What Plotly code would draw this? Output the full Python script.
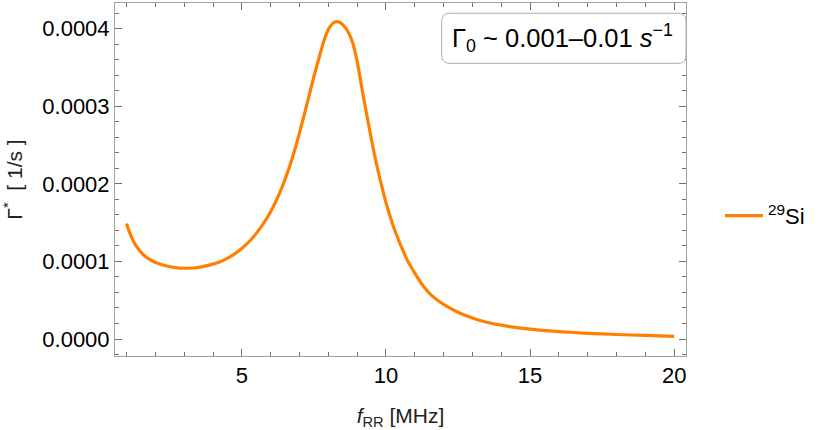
import plotly.graph_objects as go

# values
f_rr = [1.0, 1.1, 1.2, 1.35, 1.6, 1.9, 2.1, 2.4, 2.7, 3.0, 3.3, 3.6, 3.9,
        4.2, 4.5, 4.8, 5.1, 5.4, 5.7, 6.0, 6.3, 6.6, 6.9, 7.2, 7.5, 7.75,
        7.9, 8.05, 8.2, 8.3, 8.4, 8.55, 8.7, 8.85, 9.0, 9.2, 9.4, 9.6, 9.8,
        10.0, 10.25, 10.5, 10.75, 11.0, 11.3, 11.6, 12.0, 12.5, 13.0, 13.5,
        14.0, 15.0, 16.0, 17.0, 18.0, 19.0, 20.0]
gamma_si29 = [0.000149, 0.000138, 0.000129, 0.000119, 0.000108, 0.0001005,
              0.0000972, 0.0000940, 0.0000920, 0.0000912, 0.0000915,
              0.0000930, 0.0000955, 0.0000990, 0.0001040, 0.0001110,
              0.0001200, 0.0001315, 0.0001460, 0.0001640, 0.0001870,
              0.0002160, 0.0002520, 0.0002940, 0.0003380, 0.000372,
              0.000390, 0.000402, 0.000408, 0.000409, 0.000408, 0.000403,
              0.000395, 0.000381, 0.000358, 0.000316, 0.000276, 0.000238,
              0.000205, 0.000176, 0.000146, 0.000122, 0.000101, 0.0000850,
              0.0000680, 0.0000555, 0.0000445, 0.0000345, 0.0000272,
              0.0000215, 0.0000178, 0.0000127, 0.0000095, 0.0000073,
              0.0000058, 0.0000046, 0.0000035]

x_ticks = [5, 10, 15, 20]
y_ticks = [0.0, 0.0001, 0.0002, 0.0003, 0.0004]

FONT = "Liberation Sans, Arial, sans-serif"
ORANGE = "#ff8000"

fig = go.Figure()

fig.add_trace(go.Scatter(
    x=f_rr,
    y=gamma_si29,
    mode='lines',
    name='<sup>29</sup>Si',
    line=dict(color=ORANGE, width=3.2, shape='spline', smoothing=0.5)
))

axis_common = dict(
    showgrid=False,
    zeroline=False,
    showline=True,
    linecolor='#a0a0a0',
    linewidth=1,
    mirror='allticks',
    ticks='inside',
    ticklen=7,
    tickcolor='#707070',
    tickfont=dict(family=FONT, size=22, color='black'),
)

fig.update_xaxes(
    range=[0.6, 20.41],
    tickvals=x_ticks,
    minor=dict(dtick=1, ticks='inside', ticklen=4, tickcolor='#707070'),
    title=dict(text='<i>f</i><sub>RR</sub> [MHz]',
               font=dict(family=FONT, size=21, color='#222222'), standoff=22),
    **axis_common
)
fig.update_yaxes(
    range=[-0.0000219, 0.000433],
    tickvals=y_ticks,
    tickformat='.4f',
    minor=dict(dtick=0.00002, ticks='inside', ticklen=4, tickcolor='#707070'),
    title=dict(text='Γ<sup>*</sup>  [ 1/s ]',
               font=dict(family=FONT, size=21, color='#222222'), standoff=18),
    **axis_common
)

# rounded box behind the annotation (paper coords)
x0, x1, y0, y1, rx, ry = 0.572, 1.0, 0.829, 0.971, 0.014, 0.023
box_path = (f"M{x0+rx},{y0} L{x1-rx},{y0} Q{x1},{y0} {x1},{y0+ry} "
            f"L{x1},{y1-ry} Q{x1},{y1} {x1-rx},{y1} L{x0+rx},{y1} "
            f"Q{x0},{y1} {x0},{y1-ry} L{x0},{y0+ry} Q{x0},{y0} {x0+rx},{y0} Z")
fig.add_shape(type='path', path=box_path, xref='paper', yref='paper',
              line=dict(color='#b0b0b0', width=1), fillcolor='white')

fig.add_annotation(
    x=0.587, y=0.9, xref='paper', yref='paper',
    xanchor='left', yanchor='middle', align='left',
    text='Γ<sub>0</sub> ~ 0.001–0.01 <i>s</i><sup>−1</sup>',
    showarrow=False,
    font=dict(family=FONT, size=25.5, color='black'),
)

fig.update_layout(
    width=822,
    height=430,
    margin=dict(l=115, r=136, t=3, b=74),
    paper_bgcolor='white',
    plot_bgcolor='white',
    showlegend=True,
    legend=dict(x=1.0595, y=0.397, yanchor='middle', xanchor='left',
                itemwidth=38,
                font=dict(family=FONT, size=22, color='black'),
                bgcolor='rgba(0,0,0,0)'),
)

# drop the default 8px body margin so the figure sits at the page origin
fig.write_html("out.html", config={'displayModeBar': False},
               post_script="document.body.style.margin='0';")
